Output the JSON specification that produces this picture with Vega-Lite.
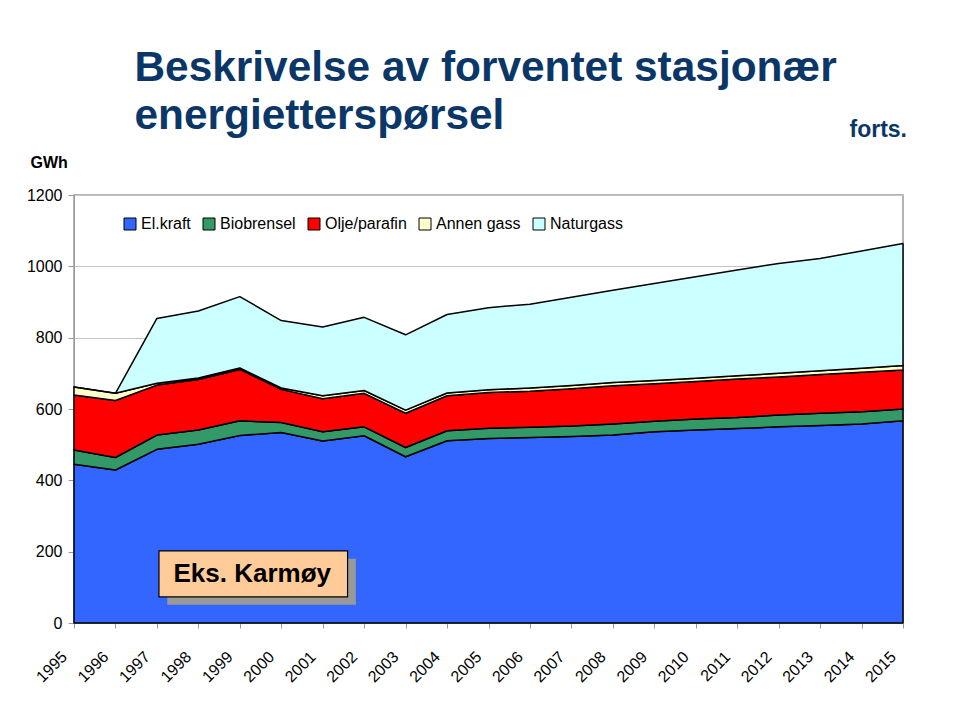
{
  "$schema": "https://vega.github.io/schema/vega-lite/v6.json",
  "width": 829,
  "height": 428,
  "autosize": {"type": "none"},
  "padding": {"left": 74, "top": 195, "right": 57, "bottom": 101},
  "background": "white",
  "title": {
    "text": "forts.",
    "anchor": "end",
    "frame": "group",
    "font": "Liberation Sans",
    "fontSize": 23,
    "fontWeight": "bold",
    "color": "#0b3768",
    "dx": 4,
    "dy": 100
  },
  "config": {
    "font": "Liberation Sans",
    "view": {"stroke": "#9a9a9a", "strokeWidth": 1.5}
  },
  "layer": [
    {
      "data": {"values": [
        {"year":1995,"kilde":"El.kraft","GWh":445},{"year":1995,"kilde":"Biobrensel","GWh":40},{"year":1995,"kilde":"Olje/parafin","GWh":154},{"year":1995,"kilde":"Annen gass","GWh":23},{"year":1995,"kilde":"Naturgass","GWh":0},
        {"year":1996,"kilde":"El.kraft","GWh":429},{"year":1996,"kilde":"Biobrensel","GWh":35},{"year":1996,"kilde":"Olje/parafin","GWh":160},{"year":1996,"kilde":"Annen gass","GWh":20},{"year":1996,"kilde":"Naturgass","GWh":0},
        {"year":1997,"kilde":"El.kraft","GWh":487},{"year":1997,"kilde":"Biobrensel","GWh":40},{"year":1997,"kilde":"Olje/parafin","GWh":140},{"year":1997,"kilde":"Annen gass","GWh":5},{"year":1997,"kilde":"Naturgass","GWh":182},
        {"year":1998,"kilde":"El.kraft","GWh":501},{"year":1998,"kilde":"Biobrensel","GWh":40},{"year":1998,"kilde":"Olje/parafin","GWh":142},{"year":1998,"kilde":"Annen gass","GWh":4},{"year":1998,"kilde":"Naturgass","GWh":188},
        {"year":1999,"kilde":"El.kraft","GWh":526},{"year":1999,"kilde":"Biobrensel","GWh":41},{"year":1999,"kilde":"Olje/parafin","GWh":144},{"year":1999,"kilde":"Annen gass","GWh":4},{"year":1999,"kilde":"Naturgass","GWh":200},
        {"year":2000,"kilde":"El.kraft","GWh":534},{"year":2000,"kilde":"Biobrensel","GWh":28},{"year":2000,"kilde":"Olje/parafin","GWh":93},{"year":2000,"kilde":"Annen gass","GWh":4},{"year":2000,"kilde":"Naturgass","GWh":189},
        {"year":2001,"kilde":"El.kraft","GWh":510},{"year":2001,"kilde":"Biobrensel","GWh":26},{"year":2001,"kilde":"Olje/parafin","GWh":93},{"year":2001,"kilde":"Annen gass","GWh":8},{"year":2001,"kilde":"Naturgass","GWh":193},
        {"year":2002,"kilde":"El.kraft","GWh":525},{"year":2002,"kilde":"Biobrensel","GWh":25},{"year":2002,"kilde":"Olje/parafin","GWh":94},{"year":2002,"kilde":"Annen gass","GWh":8},{"year":2002,"kilde":"Naturgass","GWh":205},
        {"year":2003,"kilde":"El.kraft","GWh":466},{"year":2003,"kilde":"Biobrensel","GWh":26},{"year":2003,"kilde":"Olje/parafin","GWh":96},{"year":2003,"kilde":"Annen gass","GWh":9},{"year":2003,"kilde":"Naturgass","GWh":211},
        {"year":2004,"kilde":"El.kraft","GWh":511},{"year":2004,"kilde":"Biobrensel","GWh":28},{"year":2004,"kilde":"Olje/parafin","GWh":98},{"year":2004,"kilde":"Annen gass","GWh":8},{"year":2004,"kilde":"Naturgass","GWh":220},
        {"year":2005,"kilde":"El.kraft","GWh":517},{"year":2005,"kilde":"Biobrensel","GWh":29},{"year":2005,"kilde":"Olje/parafin","GWh":100},{"year":2005,"kilde":"Annen gass","GWh":8},{"year":2005,"kilde":"Naturgass","GWh":230},
        {"year":2006,"kilde":"El.kraft","GWh":520},{"year":2006,"kilde":"Biobrensel","GWh":29},{"year":2006,"kilde":"Olje/parafin","GWh":101},{"year":2006,"kilde":"Annen gass","GWh":9},{"year":2006,"kilde":"Naturgass","GWh":235},
        {"year":2007,"kilde":"El.kraft","GWh":523},{"year":2007,"kilde":"Biobrensel","GWh":29},{"year":2007,"kilde":"Olje/parafin","GWh":105},{"year":2007,"kilde":"Annen gass","GWh":9},{"year":2007,"kilde":"Naturgass","GWh":247},
        {"year":2008,"kilde":"El.kraft","GWh":527},{"year":2008,"kilde":"Biobrensel","GWh":31},{"year":2008,"kilde":"Olje/parafin","GWh":107},{"year":2008,"kilde":"Annen gass","GWh":9},{"year":2008,"kilde":"Naturgass","GWh":259},
        {"year":2009,"kilde":"El.kraft","GWh":536},{"year":2009,"kilde":"Biobrensel","GWh":30},{"year":2009,"kilde":"Olje/parafin","GWh":105},{"year":2009,"kilde":"Annen gass","GWh":9},{"year":2009,"kilde":"Naturgass","GWh":272},
        {"year":2010,"kilde":"El.kraft","GWh":541},{"year":2010,"kilde":"Biobrensel","GWh":31},{"year":2010,"kilde":"Olje/parafin","GWh":105},{"year":2010,"kilde":"Annen gass","GWh":9},{"year":2010,"kilde":"Naturgass","GWh":285},
        {"year":2011,"kilde":"El.kraft","GWh":545},{"year":2011,"kilde":"Biobrensel","GWh":31},{"year":2011,"kilde":"Olje/parafin","GWh":108},{"year":2011,"kilde":"Annen gass","GWh":9},{"year":2011,"kilde":"Naturgass","GWh":297},
        {"year":2012,"kilde":"El.kraft","GWh":550},{"year":2012,"kilde":"Biobrensel","GWh":33},{"year":2012,"kilde":"Olje/parafin","GWh":107},{"year":2012,"kilde":"Annen gass","GWh":10},{"year":2012,"kilde":"Naturgass","GWh":308},
        {"year":2013,"kilde":"El.kraft","GWh":554},{"year":2013,"kilde":"Biobrensel","GWh":34},{"year":2013,"kilde":"Olje/parafin","GWh":109},{"year":2013,"kilde":"Annen gass","GWh":10},{"year":2013,"kilde":"Naturgass","GWh":315},
        {"year":2014,"kilde":"El.kraft","GWh":558},{"year":2014,"kilde":"Biobrensel","GWh":34},{"year":2014,"kilde":"Olje/parafin","GWh":111},{"year":2014,"kilde":"Annen gass","GWh":11},{"year":2014,"kilde":"Naturgass","GWh":329},
        {"year":2015,"kilde":"El.kraft","GWh":567},{"year":2015,"kilde":"Biobrensel","GWh":33},{"year":2015,"kilde":"Olje/parafin","GWh":109},{"year":2015,"kilde":"Annen gass","GWh":13},{"year":2015,"kilde":"Naturgass","GWh":342}
      ]},
      "transform": [
        {"calculate": "indexof(['El.kraft', 'Biobrensel', 'Olje/parafin', 'Annen gass', 'Naturgass'], datum.kilde)", "as": "rang"}
      ],
      "mark": {"type": "area", "stroke": "black", "strokeWidth": 1.5, "strokeJoin": "round", "opacity": 1},
      "encoding": {
        "x": {
          "field": "year",
          "type": "quantitative",
          "scale": {"domain": [1995, 2015], "nice": false, "zero": false},
          "axis": {
            "values": [1995,1996,1997,1998,1999,2000,2001,2002,2003,2004,2005,2006,2007,2008,2009,2010,2011,2012,2013,2014,2015],
            "format": "d",
            "grid": false,
            "labelAngle": -45,
            "labelAlign": "right",
            "labelBaseline": "middle",
            "labelFontSize": 16,
            "labelColor": "black",
            "labelOffset": -10,
            "labelPadding": 26,
            "labelOverlap": false,
            "labelFlush": false,
            "tickSize": 5,
            "tickColor": "#9a9a9a",
            "domainColor": "#9a9a9a",
            "title": "GWh",
            "titleFontSize": 16,
            "titleFontWeight": "bold",
            "titleColor": "black",
            "titleAlign": "left",
            "titleBaseline": "alphabetic",
            "titleAngle": 0,
            "titleX": -44,
            "titleY": -456
          }
        },
        "y": {
          "field": "GWh",
          "type": "quantitative",
          "stack": "zero",
          "scale": {"domain": [0, 1200], "nice": false},
          "axis": {
            "values": [0, 200, 400, 600, 800, 1000, 1200],
            "format": "d",
            "grid": true,
            "gridColor": "#c4c4c4",
            "gridWidth": 1.2,
            "labelFontSize": 16,
            "labelColor": "black",
            "labelPadding": 6,
            "tickSize": 6,
            "tickColor": "#9a9a9a",
            "domainColor": "#9a9a9a",
            "title": ["Beskrivelse av forventet stasjonær", "energietterspørsel"],
            "titleFontSize": 42.4,
            "titleFontWeight": "bold",
            "titleColor": "#0b3768",
            "titleAlign": "left",
            "titleBaseline": "alphabetic",
            "titleAngle": 0,
            "titleLineHeight": 48,
            "titleX": 60,
            "titleY": -115
          }
        },
        "order": {"field": "rang", "type": "quantitative", "sort": "ascending"},
        "color": {
          "field": "kilde",
          "type": "nominal",
          "sort": ["El.kraft", "Biobrensel", "Olje/parafin", "Annen gass", "Naturgass"],
          "scale": {
            "domain": ["El.kraft", "Biobrensel", "Olje/parafin", "Annen gass", "Naturgass"],
            "range": ["#3366ff", "#339966", "#ff0000", "#ffffcc", "#ccffff"]
          },
          "legend": {
            "orient": "none",
            "legendX": 48,
            "legendY": 21,
            "direction": "horizontal",
            "title": null,
            "symbolType": "square",
            "symbolSize": 144,
            "symbolStrokeColor": "black",
            "symbolStrokeWidth": 1,
            "symbolOpacity": 1,
            "labelFontSize": 16,
            "labelColor": "black",
            "labelOffset": 3,
            "columnPadding": 10
          }
        }
      }
    },
    {
      "data": {"values": [{}]},
      "mark": {"type": "rect", "fill": "#999999"},
      "encoding": {
        "x": {"datum": 1997.25, "type": "quantitative"},
        "x2": {"datum": 2001.8},
        "y": {"datum": 51, "type": "quantitative"},
        "y2": {"datum": 180}
      }
    },
    {
      "data": {"values": [{}]},
      "mark": {"type": "rect", "fill": "#ffcc99", "stroke": "black", "strokeWidth": 1.2},
      "encoding": {
        "x": {"datum": 1997.05, "type": "quantitative"},
        "x2": {"datum": 2001.6},
        "y": {"datum": 73, "type": "quantitative"},
        "y2": {"datum": 202}
      }
    },
    {
      "data": {"values": [{"label": "Eks. Karmøy"}]},
      "mark": {"type": "text", "fontSize": 26, "fontWeight": "bold", "color": "black", "align": "center", "baseline": "middle"},
      "encoding": {
        "x": {"datum": 1999.3, "type": "quantitative"},
        "y": {"datum": 137, "type": "quantitative"},
        "text": {"field": "label"}
      }
    }
  ]
}
